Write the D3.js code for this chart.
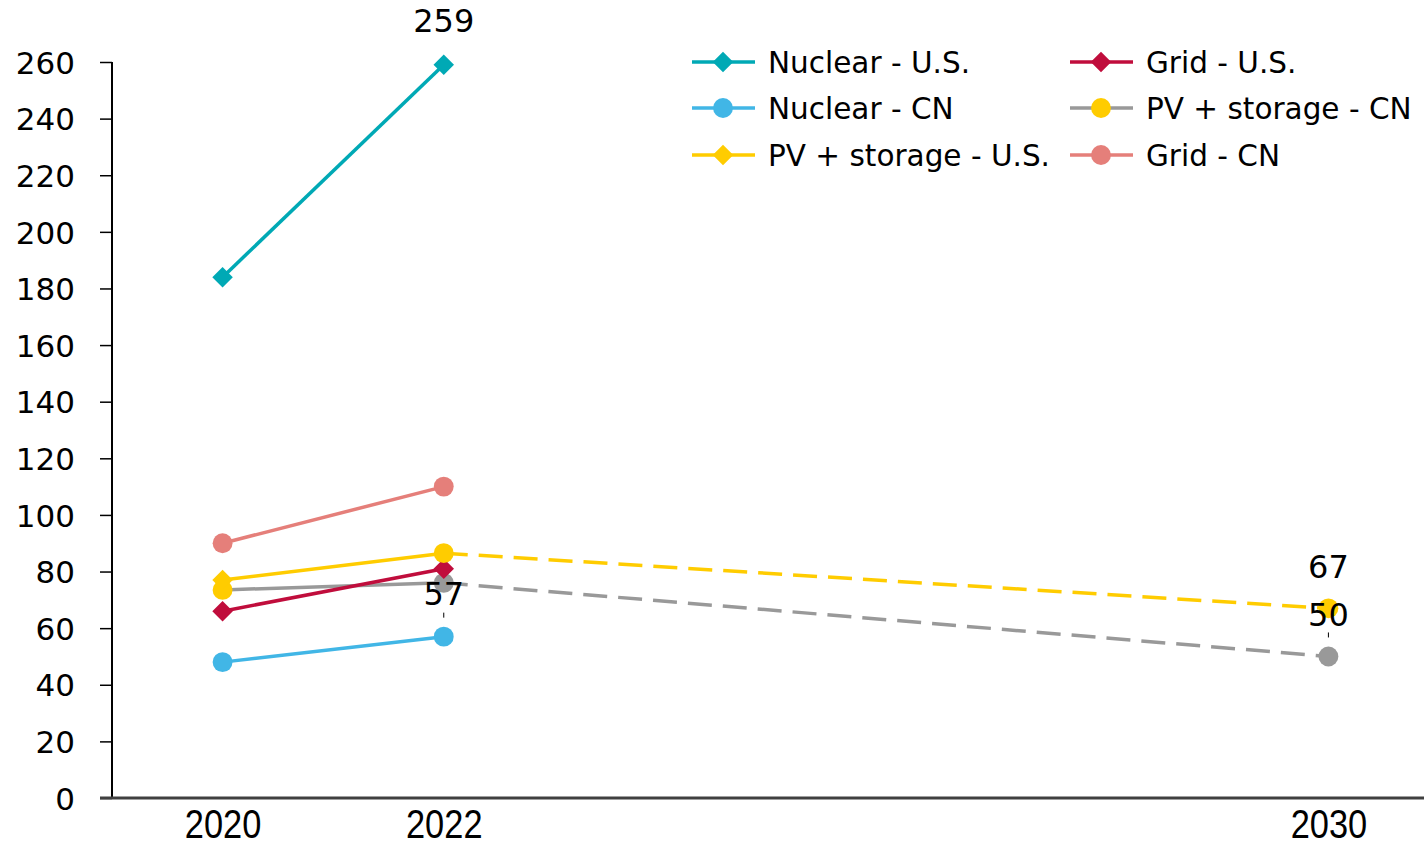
<!DOCTYPE html>
<html>
<head>
<meta charset="utf-8">
<script src="https://cdn.jsdelivr.net/npm/d3@7"></script>
<style>
  body { margin: 0; background: #fff; }
  svg text { font-family: "DejaVu Sans", sans-serif; fill: #000; }
</style>
</head>
<body>
<svg id="chart" width="1424" height="849"></svg>
<script>
// ---- data ----
const years = [2020, 2022, 2030];
const yTicks = [0, 20, 40, 60, 80, 100, 120, 140, 160, 180, 200, 220, 240, 260];

const nuclearUS = [184, 259, null];
const gridUS = [66, 81, null];
const nuclearCN = [48, 57, null];
const pvStorageCN = [73.5, 76, 50];
const pvStorageUS = [77, 86.5, 67];
const gridCN = [90, 110, null];

// labels shown on the chart
const labelPoints = [
  { values: nuclearUS, i: 1, text: "259", leader: false, off: -33 },
  { values: nuclearCN, i: 1, text: "57", leader: true, off: -32 },
  { values: pvStorageUS, i: 2, text: "67", leader: false, off: -30 },
  { values: pvStorageCN, i: 2, text: "50", leader: true, off: -30 }
];

// series styling (marker shape / colour can differ per point, as in the source)
const series = [
  { name: "PV + storage - CN", values: pvStorageCN, color: "#999999",
    shapes: ["circle", "circle", "circle"], markColors: ["#FFCC00", "#999999", "#999999"],
    legendMark: "circle", legendMarkColor: "#FFCC00" },
  { name: "Grid - U.S.", values: gridUS, color: "#C00D3C",
    shapes: ["diamond", "diamond"], markColors: ["#C00D3C", "#C00D3C"],
    legendMark: "diamond", legendMarkColor: "#C00D3C" },
  { name: "PV + storage - U.S.", values: pvStorageUS, color: "#FFCC00",
    shapes: ["diamond", "circle", "circle"], markColors: ["#FFCC00", "#FFCC00", "#FFCC00"],
    legendMark: "diamond", legendMarkColor: "#FFCC00" },
  { name: "Nuclear - CN", values: nuclearCN, color: "#41B6E6",
    shapes: ["circle", "circle"], markColors: ["#41B6E6", "#41B6E6"],
    legendMark: "circle", legendMarkColor: "#41B6E6" },
  { name: "Grid - CN", values: gridCN, color: "#E57F7A",
    shapes: ["circle", "circle"], markColors: ["#E57F7A", "#E57F7A"],
    legendMark: "circle", legendMarkColor: "#E57F7A" },
  { name: "Nuclear - U.S.", values: nuclearUS, color: "#00A9B5",
    shapes: ["diamond", "diamond"], markColors: ["#00A9B5", "#00A9B5"],
    legendMark: "diamond", legendMarkColor: "#00A9B5" }
];

const legendOrder = [
  ["Nuclear - U.S.", "Grid - U.S."],
  ["Nuclear - CN", "PV + storage - CN"],
  ["PV + storage - U.S.", "Grid - CN"]
];

// ---- layout ----
const svg = d3.select("#chart");
const plotLeft = 112, plotBottom = 798, plotTop = 62;

const x = d3.scaleLinear().domain([2019, 2031]).range([plotLeft, 1439]);
const y = d3.scaleLinear().domain([0, 260]).range([plotBottom, plotTop]);

// y axis
const yAxis = svg.append("g")
  .attr("transform", `translate(${plotLeft},0)`)
  .call(d3.axisLeft(y).tickValues(yTicks).tickSize(12).tickPadding(25));
yAxis.select(".domain").attr("stroke", "#000").attr("stroke-width", 2)
  .attr("d", `M0,${plotTop}V${plotBottom}`);
yAxis.selectAll(".tick line").attr("stroke", "#000").attr("stroke-width", 1.5);
yAxis.selectAll(".tick text")
  .style("font-family", "'DejaVu Sans', sans-serif")
  .style("font-size", "31px").attr("fill", "#000").attr("dy", "0.36em");

// x axis
const xAxis = svg.append("g")
  .attr("transform", `translate(0,${plotBottom})`)
  .call(d3.axisBottom(x).tickValues(years).tickFormat(d3.format("d")).tickSize(0).tickPadding(0));
xAxis.select(".domain").attr("stroke", "#404040").attr("stroke-width", 3)
  .attr("d", `M100,0H1424`);
xAxis.selectAll(".tick text")
  .attr("y", 0)
  .style("font-family", "'Liberation Sans', sans-serif")
  .style("font-size", "37px").attr("fill", "#000")
  .attr("dy", "0")
  .attr("transform", "translate(0,40) scale(0.93,1.1)");

// lines
const idx = years.map((_, i) => i);
const lineGen = d3.line()
  .defined(d => d.v != null)
  .x(d => x(d.year))
  .y(d => y(d.v));

function symbolPath(shape) {
  return shape === "diamond"
    ? d3.symbol().type(d3.symbolSquare).size(210)()
    : d3.symbol().type(d3.symbolCircle).size(310)();
}

series.forEach(s => {
  const pts = idx.map(i => ({ year: years[i], v: s.values[i] }));
  const g = svg.append("g");
  // solid part 2020-2022
  g.append("path").datum(pts.slice(0, 2))
    .attr("fill", "none").attr("stroke", s.color).attr("stroke-width", 3.5)
    .attr("d", lineGen);
  // dashed projection 2022-2030
  if (s.values[2] != null) {
    g.append("path").datum(pts.slice(1, 3))
      .attr("fill", "none").attr("stroke", s.color).attr("stroke-width", 3.5)
      .attr("stroke-dasharray", "24,11")
      .attr("d", lineGen);
  }
  pts.forEach((p, i) => {
    if (p.v == null) return;
    const shape = s.shapes[i];
    g.append("path")
      .attr("d", symbolPath(shape))
      .attr("transform", `translate(${x(p.year)},${y(p.v)})` + (shape === "diamond" ? " rotate(45)" : ""))
      .attr("fill", s.markColors[i]);
  });
});

// data labels
labelPoints.forEach(l => {
  const px = x(years[l.i]), py = y(l.values[l.i]);
  if (l.leader) {
    svg.append("line")
      .attr("x1", px).attr("x2", px)
      .attr("y1", py - 24).attr("y2", py - 19)
      .attr("stroke", "#000").attr("stroke-width", 1);
  }
  svg.append("text")
    .attr("x", px).attr("y", py + l.off)
    .attr("text-anchor", "middle")
    .style("font-size", "32px")
    .text(l.text);
});

// legend
const legendCols = [692, 1070];
const legendRows = [62, 108, 155];
legendOrder.forEach((row, r) => {
  row.forEach((name, c) => {
    const s = series.find(d => d.name === name);
    const lx = legendCols[c], ly = legendRows[r];
    const lg = svg.append("g").attr("transform", `translate(${lx},${ly})`);
    lg.append("line").attr("x1", 0).attr("x2", 63).attr("y1", 0).attr("y2", 0)
      .attr("stroke", s.color).attr("stroke-width", 3.5);
    lg.append("path")
      .attr("d", symbolPath(s.legendMark))
      .attr("transform", "translate(31,0)" + (s.legendMark === "diamond" ? " rotate(45)" : ""))
      .attr("fill", s.legendMarkColor);
    lg.append("text").attr("x", 76).attr("y", 0).attr("dy", "0.36em")
      .style("font-size", "29.5px")
      .text(name);
  });
});
</script>
</body>
</html>
